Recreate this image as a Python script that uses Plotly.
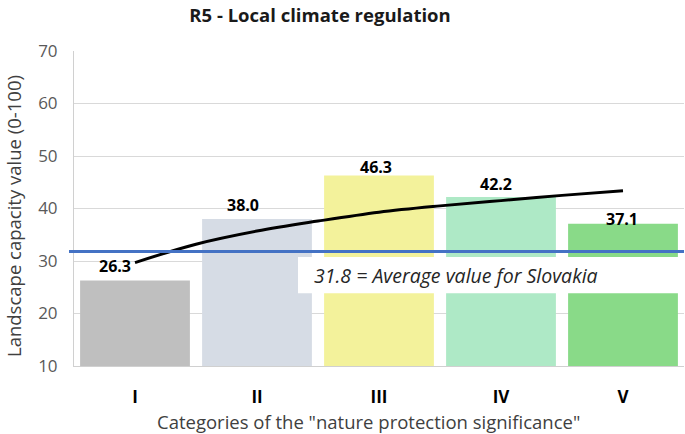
import plotly.graph_objects as go

categories = ["I", "II", "III", "IV", "V"]
values = [26.3, 38.0, 46.3, 42.2, 37.1]
bar_colors = ["#bfbfbf", "#d6dce5", "#f3f29b", "#aee9c6", "#89da88"]

# logarithmic trend line at category positions
trend_x = [1, 1.5, 2, 2.5, 3, 3.5, 4, 4.5, 5]
trend_y = [29.7, 33.2, 35.7, 37.6, 39.3, 40.5, 41.5, 42.5, 43.4]

average_value = 31.8
average_text = "31.8 = Average value for Slovakia"

# label placement tweaks (pixels) to mimic the original
label_xshift = [-20, -14, -3, -5, -1]
label_yshift = [14, 14, 8, 13, 5]

xpos = list(range(1, len(categories) + 1))

fig = go.Figure()
fig.add_trace(go.Bar(
    x=xpos, y=values, width=0.9,
    marker=dict(color=bar_colors, line=dict(width=0)),
    showlegend=False, hoverinfo="skip",
))
fig.add_trace(go.Scatter(
    x=trend_x, y=trend_y, mode="lines",
    line=dict(color="black", width=3, shape="spline"),
    showlegend=False, hoverinfo="skip",
))

font_family = "Open Sans"

annotations = []
for xi, v, dx, dy in zip(xpos, values, label_xshift, label_yshift):
    annotations.append(dict(
        x=xi, y=v, xref="x", yref="y", text=f"<b>{v:.1f}</b>",
        showarrow=False, xshift=dx, yshift=dy, yanchor="middle",
        font=dict(family=font_family, size=16, color="black"),
    ))

annotations.append(dict(
    x=2.45, y=27.3, xref="x", yref="y", text=f"<i>{average_text}</i>",
    showarrow=False, xanchor="left", yanchor="middle",
    font=dict(family=font_family, size=19.5, color="#262626"),
))
annotations.append(dict(
    x=(13 - 74) / 610, y=(366 - 216) / 315, xref="paper", yref="paper",
    text="Landscape capacity value (0-100)", textangle=-90,
    showarrow=False, xanchor="center", yanchor="middle",
    font=dict(family=font_family, size=18.5, color="#404040"),
))
annotations.append(dict(
    x=(368 - 74) / 610, y=-55 / 315, xref="paper", yref="paper",
    text='Categories of the "nature protection significance"',
    showarrow=False, xanchor="center", yanchor="middle",
    font=dict(family=font_family, size=18.5, color="#404040"),
))

shapes = [
    dict(type="rect", xref="x", yref="y", x0=2.336, x1=5.52, y0=23.85, y1=30.76,
         fillcolor="white", line=dict(width=0), layer="above"),
    dict(type="line", xref="paper", yref="y", x0=-5 / 610, x1=1.0,
         y0=average_value, y1=average_value,
         line=dict(color="#4472c4", width=3), layer="above"),
]

fig.update_layout(
    width=685, height=434,
    margin=dict(l=74, r=1, t=51, b=68),
    paper_bgcolor="white", plot_bgcolor="white",
    font=dict(family=font_family),
    title=dict(text="<b>R5 - Local climate regulation</b>", x=320 / 685, xanchor="center",
               y=1 - 16 / 434, yanchor="middle",
               font=dict(family=font_family, size=18.5, color="#1a1a1a")),
    xaxis=dict(range=[0.5, 5.5], tickvals=xpos,
               ticktext=[f"<b>{c}</b>" for c in categories],
               tickfont=dict(family=font_family, size=17, color="black"),
               showline=True, linecolor="#d0d0d0", linewidth=1,
               showgrid=False, zeroline=False, ticks="", ticklabelstandoff=16),
    yaxis=dict(range=[10, 70], dtick=10, tick0=10,
               tickfont=dict(family=font_family, size=17, color="#595959"),
               showline=True, linecolor="#d0d0d0", linewidth=1,
               showgrid=True, gridcolor="#d9d9d9", gridwidth=1,
               zeroline=False, ticks="", ticklabelstandoff=12),
    annotations=annotations,
    shapes=shapes,
    bargap=0.1,
)

fig.write_html("out.html", config={"displayModeBar": False},
               post_script="document.body.style.margin='0px';")
